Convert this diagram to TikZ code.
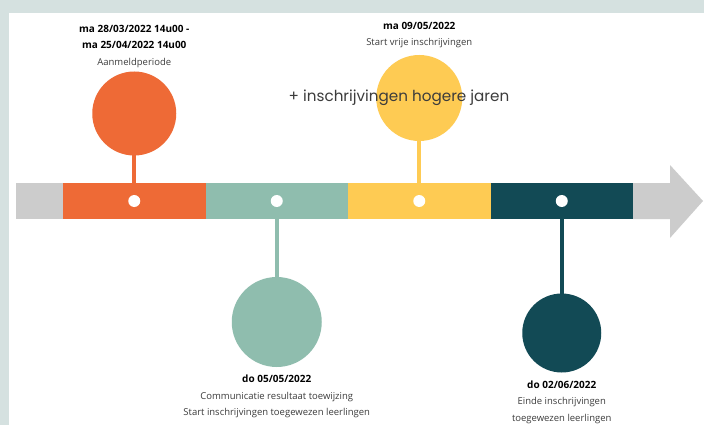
\documentclass[tikz,border=0pt]{standalone}
\usepackage{fontspec}
\setmainfont{Open Sans}
\newfontfamily\grootfont{Poppins}
\usetikzlibrary{positioning}
\usetikzlibrary{calc}
\definecolor{kader}{HTML}{D5E1E0}
\definecolor{grijs}{HTML}{CCCCCC}
\definecolor{oranje}{HTML}{EE6A36}
\definecolor{lichtgroen}{HTML}{8FBDAE}
\definecolor{geel}{HTML}{FECB53}
\definecolor{donker}{HTML}{124A55}
\definecolor{tekstgrijs}{HTML}{3C3C3C}
\newcommand{\datumdag}[1]{\textbf{\textcolor{black}{\fontsize{10}{16.5}\selectfont #1}}}
\tikzset{
	%Define style for the bar pieces
	blok/.style={
		rectangle,
		inner sep=0pt, outer sep=0pt,
		minimum width=142.5pt,
		minimum height=36pt},
	%Define style for the big circles
	bol/.style={circle, inner sep=0pt, outer sep=0pt, minimum size=86pt},
	%Define style for the white dots
	stip/.style={circle, fill=white, inner sep=0pt, minimum size=12pt},
	% Define stem style
	steel/.style={line width=4pt},
	% Define label style
	datum/.style={
		align=center,
		inner sep=0pt,
		text=tekstgrijs,
		font=\fontsize{9.5}{16.5}\selectfont}
}
\begin{document}
\begin{tikzpicture}[x=1pt,y=-1pt]
		\useasboundingbox (0,0) rectangle (704,425);
		\fill[kader] (0,0) rectangle (704,425);
		\fill[white] (9,13) rectangle (704,425);
		% bar pieces
		\node[blok, fill=grijs, minimum width=47pt, anchor=west] (start) at (16,201) {};
		\node[blok, fill=oranje, right=0pt of start] (seg1) {};
		\node[blok, fill=lichtgroen, right=0pt of seg1] (seg2) {};
		\node[blok, fill=geel, right=0pt of seg2] (seg3) {};
		\node[blok, fill=donker, right=0pt of seg3] (seg4) {};
		% arrow head
		\coordinate (pijlpunt) at (703,201);
		\fill[grijs] (seg4.north east) -- ++(37,0) -- ++(0,-18) -- (pijlpunt)
			-- ($(seg4.south east)+(37,19)$) -- ++(0,-19) -- (seg4.south east) -- cycle;
		% node Aanmeldperiode
		\node[bol, fill=oranje, minimum size=84pt, above=27.5pt of seg1] (aanmeld) {};
		% node Communicatie
		\node[bol, fill=lichtgroen, minimum size=90pt, below=58pt of seg2] (communicatie) {};
		% node Start vrije inschrijvingen
		\node[bol, fill=geel, above=42pt of seg3] (vrij) {};
		% node Einde inschrijvingen
		\node[bol, fill=donker, minimum size=79pt, below=74.5pt of seg4] (einde) {};
		% stems
		\draw[steel, oranje]     (aanmeld) -- (seg1);
		\draw[steel, lichtgroen] (communicatie) -- (seg2);
		\draw[steel, geel]       (vrij) -- (seg3);
		\draw[steel, donker]     (einde) -- (seg4);
		% white dots
		\node[stip] (d1) at (seg1) {};
		\node[stip] (d2) at (seg2) {};
		\node[stip] (d3) at (seg3) {};
		\node[stip] (d4) at (seg4) {};
		% labels
		\node[datum, above=4pt of aanmeld] (aanmeldtekst)
			{\datumdag{ma 28/03/2022 14u00 -}\\\datumdag{ma 25/04/2022 14u00}\\Aanmeldperiode};
		\node[datum, above=7pt of vrij] (vrijtekst)
			{\datumdag{ma 09/05/2022}\\Start vrije inschrijvingen};
		\node[datum, below=8pt of communicatie] (communicatietekst)
			{\datumdag{do 05/05/2022}\\Communicatie resultaat toewijzing\\Start inschrijvingen toegewezen leerlingen};
		\node[datum, below=8pt of einde] (eindetekst)
			{\datumdag{do 02/06/2022}\\Einde inschrijvingen\\toegewezen leerlingen};
		\node[text=tekstgrijs, font=\grootfont\fontsize{15.2}{18}\selectfont] (hogere) at (399,97.5)
			{+ inschrijvingen hogere jaren};
	\end{tikzpicture}
\end{document}
